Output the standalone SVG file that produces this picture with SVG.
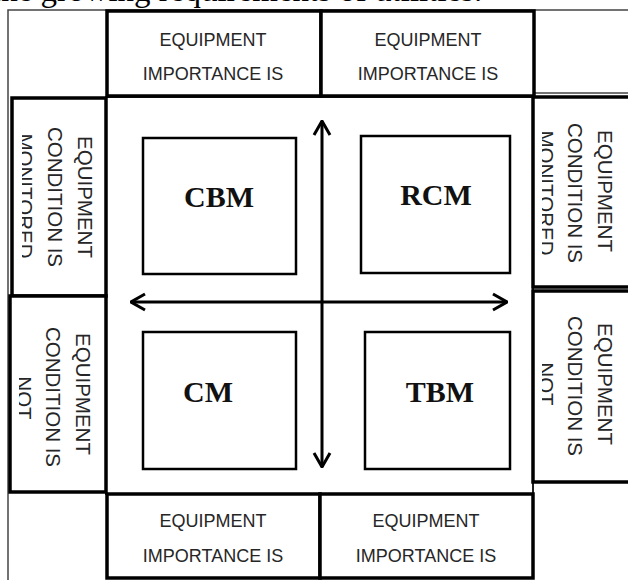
<svg xmlns="http://www.w3.org/2000/svg" width="628" height="580" viewBox="0 0 628 580">
<style>
.thick{fill:#fff;stroke:#000;stroke-width:3.5}
.thin{fill:none;stroke:#444;stroke-width:1.5}
.inner{fill:#fff;stroke:#000;stroke-width:2.5}
.h{font-family:"Liberation Sans",Arial,sans-serif;font-size:18px;fill:#262626;text-anchor:middle}
.v{font-family:"Liberation Sans",Arial,sans-serif;font-size:20.5px;fill:#262626;text-anchor:middle}
.lab{font-family:"Liberation Serif","Times New Roman",serif;font-size:30px;font-weight:bold;fill:#111;text-anchor:middle}
.cap{font-family:"Liberation Serif","Times New Roman",serif;font-size:33px;fill:#000}
.arr{stroke:#000;stroke-width:3;fill:none}
</style>
<defs>
<marker id="ah" viewBox="0 0 16 20" markerWidth="16" markerHeight="20" refX="15" refY="10" markerUnits="userSpaceOnUse" orient="auto-start-reverse">
<path d="M1,2 L15,10 L1,18" fill="none" stroke="#000" stroke-width="3"/>
</marker>
<clipPath id="cL1"><rect x="22" y="98" width="84" height="198"/></clipPath>
<clipPath id="cL2"><rect x="19" y="296" width="87" height="196"/></clipPath>
<clipPath id="cR1"><rect x="542" y="97" width="90" height="190"/></clipPath>
<clipPath id="cR2"><rect x="542" y="291" width="90" height="191"/></clipPath>
</defs>
<rect width="628" height="580" fill="#fff"/>
<text class="cap" x="-8" y="1">the growing requirements of utilities.</text>
<g id="frame">
<path class="thin" d="M8,580 V10 H628"/>
<path class="thin" d="M535,93 H628"/>
<rect x="106" y="97" width="427" height="397" fill="none" stroke="#222" stroke-width="2"/>
</g>
<g id="top1"><rect class="thick" x="107" y="11" width="214" height="85"/>
<text class="h" x="213" y="46">EQUIPMENT</text><text class="h" x="213" y="80">IMPORTANCE IS</text></g>
<g id="top2"><rect class="thick" x="321" y="11" width="213" height="85"/>
<text class="h" x="428" y="46">EQUIPMENT</text><text class="h" x="428" y="80">IMPORTANCE IS</text></g>
<g id="bottom1"><rect class="thick" x="107" y="494" width="213" height="84"/>
<text class="h" x="213" y="527">EQUIPMENT</text><text class="h" x="213" y="562">IMPORTANCE IS</text></g>
<g id="bottom2"><rect class="thick" x="320" y="494" width="213" height="84"/>
<text class="h" x="426" y="527">EQUIPMENT</text><text class="h" x="426" y="562">IMPORTANCE IS</text></g>
<g id="left1"><rect class="thick" x="12" y="98" width="94" height="198"/>
<g clip-path="url(#cL1)">
<text class="v" transform="translate(78,197) rotate(90)">EQUIPMENT</text>
<text class="v" transform="translate(48,197) rotate(90)">CONDITION IS</text>
<text class="v" transform="translate(18,196) rotate(90)">MONITORED</text></g></g>
<g id="left2"><rect class="thick" x="10" y="296" width="96" height="196"/>
<g clip-path="url(#cL2)">
<text class="v" transform="translate(76,394) rotate(90)">EQUIPMENT</text>
<text class="v" transform="translate(46,397) rotate(90)">CONDITION IS</text>
<text class="v" transform="translate(17,398) rotate(90)">NOT</text></g></g>
<g id="right1"><rect class="thick" x="533" y="97" width="100" height="190"/>
<g clip-path="url(#cR1)">
<text class="v" transform="translate(598,191) rotate(90)">EQUIPMENT</text>
<text class="v" transform="translate(568,193) rotate(90)">CONDITION IS</text>
<text class="v" transform="translate(539,193) rotate(90)">MONITORED</text></g></g>
<g id="right2"><rect class="thick" x="533" y="291" width="100" height="191"/>
<g clip-path="url(#cR2)">
<text class="v" transform="translate(598,384) rotate(90)">EQUIPMENT</text>
<text class="v" transform="translate(568,386) rotate(90)">CONDITION IS</text>
<text class="v" transform="translate(539,384) rotate(90)">NOT</text></g></g>
<g id="cbm"><rect class="inner" x="143" y="138" width="153" height="136"/><text class="lab" x="219" y="207">CBM</text></g>
<g id="rcm"><rect class="inner" x="361" y="136" width="149" height="137"/><text class="lab" x="436" y="205">RCM</text></g>
<g id="cm"><rect class="inner" x="143" y="332" width="153" height="137"/><text class="lab" x="208" y="402">CM</text></g>
<g id="tbm"><rect class="inner" x="365" y="332" width="145" height="137"/><text class="lab" x="440" y="402">TBM</text></g>
<g id="connectors">
<line class="arr" x1="322" y1="121" x2="322" y2="467" marker-start="url(#ah)" marker-end="url(#ah)"/>
<line class="arr" x1="131" y1="302" x2="507" y2="302" marker-start="url(#ah)" marker-end="url(#ah)"/>
</g>
</svg>
